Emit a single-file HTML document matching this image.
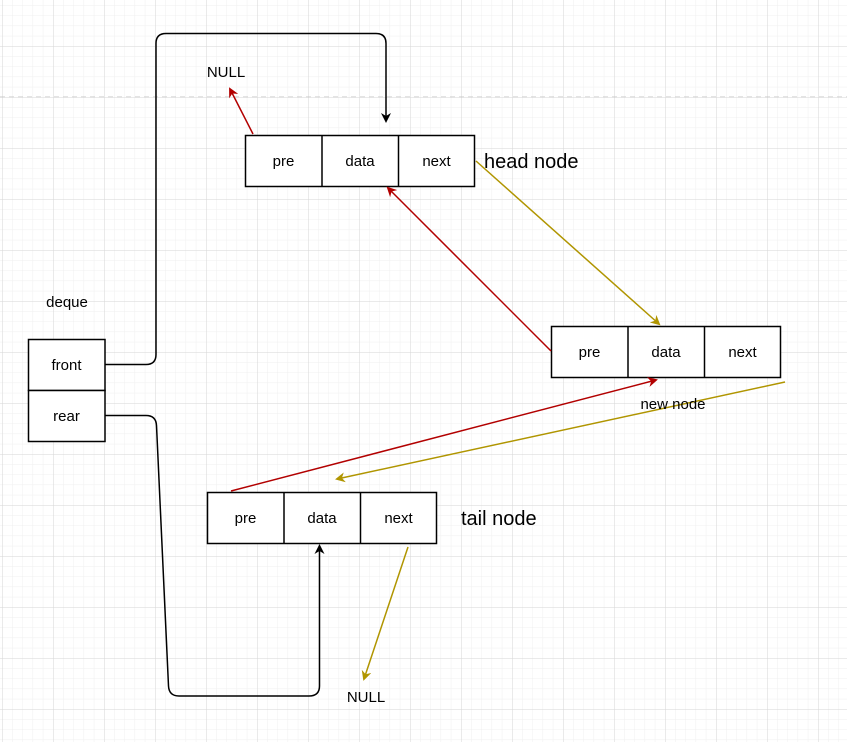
<!DOCTYPE html>
<html><head><meta charset="utf-8"><style>
html,body{margin:0;padding:0;background:#fff;}
svg{display:block;font-family:"Liberation Sans",sans-serif;}
</style></head><body>
<svg width="847" height="742" viewBox="0 0 847 742" xmlns="http://www.w3.org/2000/svg">
<defs>
<pattern id="minor" x="2" y="-5" width="10.2" height="10.2" patternUnits="userSpaceOnUse">
<path d="M0 0H10.2M0 0V10.2" stroke="#efefef" stroke-width="1" fill="none"/>
</pattern>
<pattern id="major" x="2" y="-5" width="51" height="51" patternUnits="userSpaceOnUse">
<path d="M0 0H51M0 0V51" stroke="#d6d6d6" stroke-width="1" fill="none"/>
</pattern>
<marker id="ab" markerWidth="10" markerHeight="10" refX="8" refY="5" orient="auto" markerUnits="userSpaceOnUse"><path d="M0 0L10 5L0 10L3 5Z" fill="#000"/></marker>
<marker id="ar" markerWidth="10" markerHeight="10" refX="8" refY="5" orient="auto" markerUnits="userSpaceOnUse"><path d="M0 0L10 5L0 10L3 5Z" fill="#b20000"/></marker>
<marker id="ay" markerWidth="10" markerHeight="10" refX="8" refY="5" orient="auto" markerUnits="userSpaceOnUse"><path d="M0 0L10 5L0 10L3 5Z" fill="#b09500"/></marker>
</defs>
<rect width="847" height="742" fill="#fff"/>
<rect width="847" height="742" fill="url(#minor)"/>
<rect width="847" height="742" fill="url(#major)"/>
<line x1="0" y1="97" x2="847" y2="97" stroke="#c8c8c8" stroke-dasharray="5,4"/>

<g fill="none" stroke="#000" stroke-width="1.5">
<rect x="245.5" y="135.5" width="229" height="51" fill="#fff"/>
<line x1="322" y1="135.5" x2="322" y2="186.5"/><line x1="398.5" y1="135.5" x2="398.5" y2="186.5"/>
<rect x="551.5" y="326.5" width="229" height="51" fill="#fff"/>
<line x1="628" y1="326.5" x2="628" y2="377.5"/><line x1="704.5" y1="326.5" x2="704.5" y2="377.5"/>
<rect x="207.5" y="492.5" width="229" height="51" fill="#fff"/>
<line x1="284" y1="492.5" x2="284" y2="543.5"/><line x1="360.5" y1="492.5" x2="360.5" y2="543.5"/>
<rect x="28.5" y="339.5" width="76.5" height="51" fill="#fff"/>
<rect x="28.5" y="390.5" width="76.5" height="51" fill="#fff"/>
<path d="M105 364.5H146Q156 364.5 156 354.5V43.5Q156 33.5 166 33.5H376Q386 33.5 386 43.5V121" marker-end="url(#ab)"/>
<path d="M105 415.5H146Q156 415.5 156.5 425.5L168.5 686Q169 696 179 696H309Q319.5 696 319.5 686V546" marker-end="url(#ab)"/>
</g>
<g fill="none" stroke-width="1.5">
<line x1="253" y1="134" x2="230" y2="89" stroke="#b20000" marker-end="url(#ar)"/>
<line x1="551" y1="351" x2="388" y2="188" stroke="#b20000" marker-end="url(#ar)"/>
<line x1="231" y1="491" x2="656" y2="380" stroke="#b20000" marker-end="url(#ar)"/>
<line x1="476" y1="161" x2="659" y2="324" stroke="#b09500" marker-end="url(#ay)"/>
<line x1="785" y1="382" x2="337" y2="479" stroke="#b09500" marker-end="url(#ay)"/>
<line x1="408" y1="547" x2="364" y2="679" stroke="#b09500" marker-end="url(#ay)"/>
</g>
<g font-size="15" fill="#000" text-anchor="middle">
<text x="283.5" y="166">pre</text><text x="360" y="166">data</text><text x="436.5" y="166">next</text>
<text x="589.5" y="357">pre</text><text x="666" y="357">data</text><text x="742.5" y="357">next</text>
<text x="245.5" y="523">pre</text><text x="322" y="523">data</text><text x="398.5" y="523">next</text>
<text x="66.5" y="370">front</text><text x="66.5" y="421">rear</text>
<text x="67" y="307">deque</text>
<text x="226" y="77">NULL</text>
<text x="366" y="702">NULL</text>
<text x="673" y="409">new node</text>
</g>
<g font-size="20" fill="#000">
<text x="484" y="168">head node</text>
<text x="461" y="525">tail node</text>
</g>
</svg>
</body></html>
